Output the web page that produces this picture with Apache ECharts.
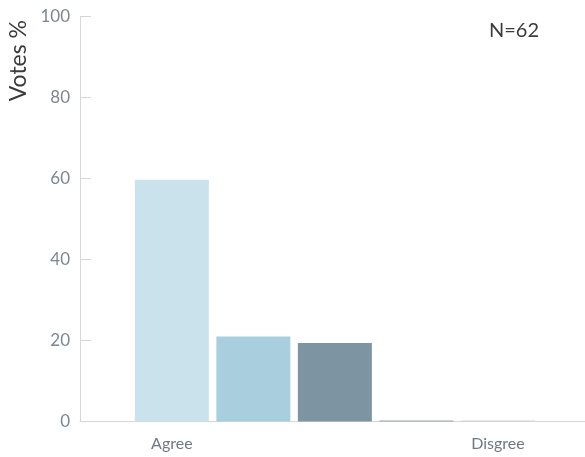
<!DOCTYPE html>
<html>
<head>
<meta charset="utf-8">
<script src="https://cdn.jsdelivr.net/npm/echarts@6/dist/echarts.min.js"></script>
<style>html,body{margin:0;padding:0;background:#fff}#c{width:585px;height:457px}</style>
</head>
<body>
<div id="c"></div>
<script>
const positions = [0, 1, 2, 3, 4];
const values = [59.7, 21.0, 19.4, 0, 0];
const barColors = ['#cae2eb', '#a9cfdf', '#7d95a2', '#9aa3a8', '#cfd4d7'];
const labelPositions = [0, 4];
const labelTexts = {0: 'Agree', 4: 'Disgree'};
const yTicks = [0, 20, 40, 60, 80, 100];

const chart = echarts.init(document.getElementById('c'));
const font = 'Lato, "Open Sans", sans-serif';
chart.setOption({
  animation: false,
  grid: {left: 80, right: 0, top: 16.5, bottom: 35.5},
  xAxis: {
    type: 'value', min: -1.127, max: 5.069,
    splitLine: {show: false},
    axisLine: {show: true, onZero: false, lineStyle: {color: '#d6d6d6', width: 1}},
    axisTick: {show: false},
    axisLabel: {
      customValues: labelPositions,
      formatter: v => labelTexts[v] || '',
      color: '#6f7882', fontSize: 16, fontFamily: font, margin: 14
    }
  },
  yAxis: {
    type: 'value', min: 0, max: 100, interval: 20,
    splitLine: {show: false},
    axisLine: {show: true, onZero: false, lineStyle: {color: '#d6d6d6', width: 1}},
    axisTick: {show: true, inside: true, length: 11, lineStyle: {color: '#d6d6d6'}},
    axisLabel: {color: '#7d8791', fontSize: 17, fontFamily: font, margin: 10,
      formatter: v => yTicks.includes(v) ? String(v) : ''}
  },
  series: [{
    type: 'bar',
    barWidth: 74,
    barMinHeight: 1,
    data: positions.map((p, i) => ({value: [p, values[i]], itemStyle: {color: barColors[i]}}))
  }],
  graphic: [
    {type: 'text', left: 7, top: 20, rotation: Math.PI / 2,
      style: {text: 'Votes %', fill: '#3a3a3a', fontSize: 23, fontFamily: font}},
    {type: 'text', left: 489, top: 21,
      style: {text: 'N=62', fill: '#3a3a3a', fontSize: 20, fontFamily: font}}
  ]
});
</script>
</body>
</html>
